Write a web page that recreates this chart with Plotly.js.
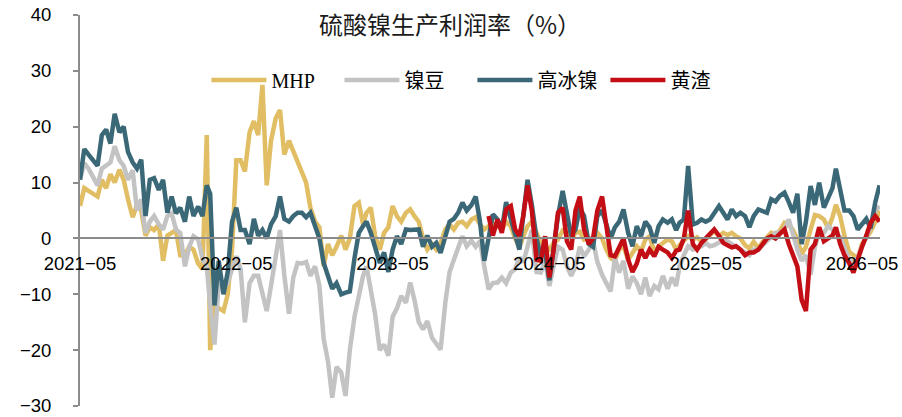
<!DOCTYPE html>
<html>
<head>
<meta charset="utf-8">
<script src="https://cdn.plot.ly/plotly-3.0.1.min.js"></script>
<style>
html,body{margin:0;padding:0;background:#fff;}
#chart{width:902px;height:417px;}
</style>
</head>
<body>
<div id="chart"></div>
<script>
// Series names
const seriesNames = ['MHP', '镍豆', '高冰镍', '黄渣'];

// Observation dates: 1st, 11th and 21st of each month, 2021-05 .. 2026-06 (last month: 1st, 11th)
const firstMonth = {year: 2021, month: 5};
const monthCount = 62;
const obsDays = [1, 11, 21];
const lastMonthDays = [1, 11];

// Tick positions / labels
const tickDates = ['2021-05-01', '2022-05-01', '2023-05-01', '2024-05-01', '2025-05-01', '2026-05-01'];
const tickLabels = ['2021−05', '2022−05', '2023−05', '2024−05', '2025−05', '2026−05'];

// MHP (%), three values per month
const mhp = [
  5.8, 9.0, 8.5,   8.0, 7.5, 10.5,   9.0, 11.5, 10.0,   12.3, 10.5, 7.0,      // 2021-05..08
  3.8, 6.0, 5.0,   0.5, 2.0, 1.5,   2.5, -4.0, 0.5,   1.0, 1.5, -3.0,         // 2021-09..12
  -3.0, -1.5, -2.0,   -4.5, -5.5, 18.5,   -20.0, -12.0, -12.5,   -13.0, -10.0, -2.0,   // 2022-01..04
  14.0, 14.0, 12.0,   19.0, 21.0, 18.5,   27.5, 9.5, 17.5,   21.5, 23.0, 15.0,  // 2022-05..08
  17.5, 15.5, 13.5,   12.0, 10.0, 5.5,   3.0, 2.0, -5.0,   -1.0, -3.0, -1.5,    // 2022-09..12
  0.5, -2.0, 0.0,   5.8, 6.4, 2.5,   4.6, 5.5, 0.5,   -2.0, 1.0, 2.0,         // 2023-01..04
  5.8, 4.0, 3.0,   4.6, 5.2, 4.0,   3.0, 0.0, -2.0,   -1.0, -2.0, -0.8,       // 2023-05..08
  1.6, 2.5, 1.6,   2.8, 3.0, 2.2,   3.4, 3.8, 2.5,   1.6, 2.3, 2.8,           // 2023-09..12
  2.2, 1.6, 3.0,   2.2, 0.0, -1.6,   0.4, 2.2, 3.0,   0.8, -0.8, -1.6,        // 2024-01..04
  -2.0, -0.8, -0.2,   1.4, 1.0, -0.2,   1.0, 1.2, -0.2,   0.0, -0.2, 1.0,     // 2024-05..08
  0.0, -2.0, -3.5,   -4.0, -2.0, -1.4,   -3.8, -2.6, -1.4,   -2.3, -0.2, 0.4, // 2024-09..12
  -2.4, -1.4, -0.8,   -0.2, -0.5, -2.0,   -1.2, -0.5, 0.4,   -0.2, 0.2, -0.6, // 2025-01..04
  -0.2, 0.6, 1.4,   0.4, 1.0, 0.6,   1.0, 0.4, 0.0,   -1.2, -1.8, -0.6,       // 2025-05..08
  -1.8, -0.6, 0.2,   1.0, 0.6, 1.4,   2.8, 2.5, 1.5,   -0.2, -2.8, -1.5,      // 2025-09..12
  1.6, 4.2, 4.0,   3.4, 1.8, 3.8,   6.0, 4.0, 0.5,   -2.4, -3.0, -3.5,        // 2026-01..04
  -1.0, 0.0, 1.2,   3.0, 5.0                                                 // 2026-05..06
];

// 镍豆 (%)
const nickelBean = [
  10.5, 13.5, 12.5,   10.8, 9.5, 12.5,   13.0, 13.6, 16.5,   14.0, 13.0, 10.5,
  12.2, 5.0, 7.0,   1.0, 3.0, 4.0,   2.5, 1.6, 4.0,   4.5, 1.6, 1.0,
  -5.0, -1.5, 0.4,   -0.2, -3.6, -5.0,   -12.0, -19.0, -8.0,   -9.1, -7.9, -5.5,
  -3.2, -5.5, -15.0,   -8.0, -6.7, -6.7,   -9.7, -13.0, -8.5,   -3.8, 1.5, -6.5,
  -13.5, -7.0, -4.4,   -4.5, -4.2, -6.7,   -5.0, -8.5, -18.0,   -22.0, -28.5, -23.0,
  -24.0, -28.2, -20.0,   -14.0, -10.0, -6.7,   -5.0, -9.5, -13.5,   -20.0, -19.0, -21.0,
  -14.0, -12.5, -10.3,   -11.5, -7.9, -11.0,   -15.0, -16.3, -14.8,   -17.8, -19.0, -19.9,
  -11.5, -6.0, -3.8,   -1.8, 0.4, -1.4,   -0.4, -1.5, -0.5,   -5.0, -9.1, -8.0,
  -7.9, -7.0, -8.0,   -6.1, -5.5, -3.4,   -4.3, -1.5, 1.5,   -6.0, -6.1, -4.0,
  -8.5, -5.0, -1.5,   -2.0, -5.0, -6.7,   -5.0, -1.5, -3.2,   -2.0, -0.5, -4.2,
  -6.5, -8.0, -9.5,   -3.5, -6.1, -4.0,   -9.0, -6.8, -8.0,   -10.0, -7.0, -10.3,
  -8.5, -9.1, -6.7,   -9.0, -7.0, -8.5,   -5.0, -3.0, -1.4,   -2.0, -1.8, -1.4,
  -0.8, -1.4, -1.2,   -0.8, -0.3, -0.5,   -1.0, -1.4, -2.0,   -2.5, -3.0, -2.0,
  -2.0, -1.2, -0.4,   0.4, 1.0, 1.0,   1.6, 3.4, 0.5,   -2.0, -4.0, -3.0,
  -6.5, -1.5, 1.0,   1.0, 2.2, 1.6,   1.0, 0.2, -1.5,   -3.8, -4.4, -3.5,
  -1.5, 0.5, 2.0,   5.0, 5.8
];

// 高冰镍 (%)
const highMatte = [
  10.5, 16.0, 15.0,   14.0, 13.0, 18.5,   19.5, 17.0, 22.3,   19.0, 20.0, 15.5,
  13.6, 12.5, 14.1,   4.0, 10.5, 10.8,   8.7, 10.5, 4.6,   7.5, 4.5, 5.5,
  3.0, 7.5, 4.0,   5.7, 4.0, 9.5,   8.0, -12.0, -4.0,   -10.0, -6.0, 3.0,
  5.5, 1.5, 1.5,   -1.0, 3.5, 0.5,   1.5, 0.0, 2.5,   4.0, 7.5, 3.5,
  3.0, 4.0, 4.6,   4.6, 3.8, 4.6,   2.2, 0.0, -4.4,   -7.0, -9.0, -8.0,
  -10.0, -9.7, -9.5,   -3.5, 1.0, 2.2,   3.0, 1.0, -1.5,   -4.4, -2.5, -6.0,
  -2.0, 0.4, -1.0,   1.6, 1.5, 1.5,   1.6, -1.5, 0.5,   -1.5, -0.8, -2.6,
  0.5, 3.0, 3.5,   4.6, 6.4, 5.0,   6.0, 7.5, 3.0,   -4.0, 0.0, 4.3,
  3.4, 1.6, 6.5,   3.5, 0.4, -2.0,   4.0, 10.5, 6.0,   0.0, -3.2, -2.5,
  -7.5, -2.0, 4.0,   8.5, 4.0, 0.4,   1.6, 5.5, 4.0,   -1.0, -1.5, 4.0,
  5.0, 2.2, 0.0,   2.0, 3.0, 5.2,   1.0, -1.4, 2.2,   0.4, 3.0, 2.0,
  -0.8, 2.2, 3.4,   2.8, 3.4, 1.5,   2.8, 3.4, 13.0,   2.5, 2.8, 3.4,
  3.0, 3.4, 4.6,   5.8, 4.6, 3.4,   5.2, 4.0, 4.6,   4.0, 2.0, 4.0,
  5.2, 5.0, 4.6,   7.0, 6.6, 7.6,   8.2, 6.5, 4.6,   8.0, -1.0, 3.0,
  9.4, 6.0, 10.0,   5.5, 7.5, 9.0,   12.5, 8.2, 5.0,   5.0, 4.0, 1.6,
  2.5, 3.5, 1.8,   6.5, 9.5
];

// 黄渣 (%), starts 2023-12-11
const slagStart = '2023-12-11';
const slag = [
  4.0, 0.5,                                                    // 2023-12 (11th, 21st)
  3.4, 1.0, 5.2,   5.8, 1.6, 0.5,   4.0, 9.5, 5.0,   -3.8, -4.0, 0.4,
  -7.0, -2.0, 4.6,   5.5, -0.5, -2.0,   5.0, 7.5, 1.6,   -1.0, 0.0, 5.0,
  7.5, 1.5, -3.0,   -3.2, -1.5, 0.0,   -3.8, -6.0, -4.5,   -2.0, -3.5, -2.0,
  -3.2, -1.5, -2.0,   -2.5, -3.5, -2.2,   -2.0, 0.0, 5.0,   -1.0, -2.0, -0.8,
  0.0, 0.8, 1.6,   0.5, -0.8, -1.2,   -1.6, -1.4, -2.0,   -3.0, -2.5, -2.5,
  -2.0, -1.0, 0.0,   0.4, 0.0, 0.8,   1.6, -1.0, -3.0,   -5.0, -11.0, -13.0,
  -2.0, -1.0, 2.0,   -0.5, 0.0, 0.5,   2.0, -1.0, -3.0,   -4.4, -6.1, -3.5,
  -1.5, 0.5, 2.8,   4.0, 3.0
];

const colors = ['#E1BD63', '#C3C3C3', '#3B6877', '#C20E14'];

function pad(n) { return (n < 10 ? '0' : '') + n; }
function buildDates() {
  const out = [];
  for (let m = 0; m < monthCount; m++) {
    const idx = firstMonth.month - 1 + m;
    const y = firstMonth.year + Math.floor(idx / 12);
    const mo = (idx % 12) + 1;
    const days = (m === monthCount - 1) ? lastMonthDays : obsDays;
    days.forEach(d => out.push(y + '-' + pad(mo) + '-' + pad(d)));
  }
  return out;
}
const dates = buildDates();
const slagDates = dates.slice(dates.indexOf(slagStart));

const seriesValues = [mhp, nickelBean, highMatte, slag];
const seriesDates = [dates, dates, dates, slagDates];

const traces = seriesValues.map((vals, i) => ({
  type: 'scatter',
  mode: 'lines',
  name: seriesNames[i],
  x: seriesDates[i].slice(0, vals.length),
  y: vals,
  line: {color: colors[i], width: 4.5}
}));

const tickFont = {family: '"Liberation Sans", Arial, sans-serif', size: 18.5, color: '#000'};

const layout = {
  width: 902,
  height: 417,
  margin: {l: 80, r: 22, t: 15, b: 11},
  paper_bgcolor: '#ffffff',
  plot_bgcolor: '#ffffff',
  showlegend: true,
  title: {
    text: '硫酸镍生产利润率（%）',
    x: 450 / 902, xanchor: 'center', xref: 'container',
    y: 1 - 26 / 417, yanchor: 'middle', yref: 'container',
    font: {family: '"Noto Sans CJK SC", sans-serif', size: 24, color: '#1a1a1a'}
  },
  xaxis: {
    type: 'date',
    range: ['2021-05-01', '2026-06-12'],
    anchor: 'free',
    position: 3 / 7,
    showline: true,
    linecolor: '#8c8c8c',
    linewidth: 2,
    showgrid: false,
    zeroline: false,
    ticks: '',
    tickmode: 'array',
    tickvals: tickDates,
    ticktext: tickLabels,
    ticklabelstandoff: 8,
    tickfont: tickFont
  },
  yaxis: {
    range: [-30, 40],
    tick0: 0,
    dtick: 10,
    showline: true,
    linecolor: '#8c8c8c',
    linewidth: 2,
    ticks: 'outside',
    ticklen: 5,
    tickwidth: 2,
    tickcolor: '#8c8c8c',
    showgrid: false,
    zeroline: false,
    ticklabelstandoff: 18,
    tickfont: tickFont
  },
  legend: {
    orientation: 'h',
    x: 0.158, xanchor: 'left',
    y: 0.834, yanchor: 'middle',
    itemwidth: 55,
    entrywidth: 63,
    entrywidthmode: 'pixels',
    bgcolor: 'rgba(0,0,0,0)',
    font: {family: '"Liberation Serif", "Noto Sans CJK SC", serif', size: 20, color: '#000'}
  }
};

Plotly.newPlot('chart', traces, layout, {staticPlot: true, displayModeBar: false});
</script>
</body>
</html>
